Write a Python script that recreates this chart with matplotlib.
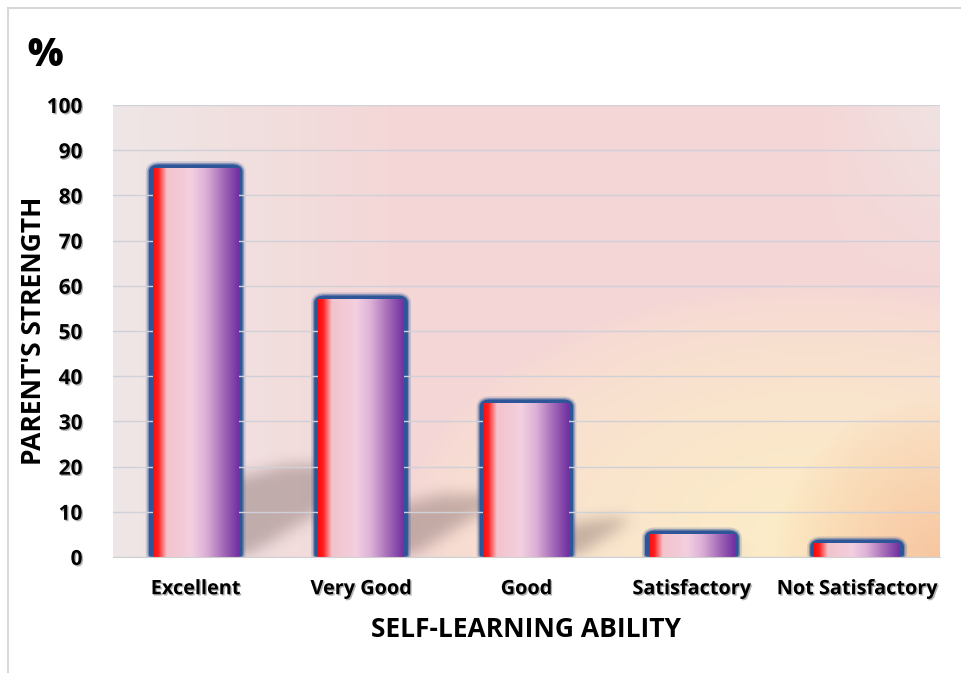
import numpy as np
import matplotlib.pyplot as plt
from matplotlib.patches import FancyBboxPatch, Rectangle
from matplotlib.path import Path
from matplotlib.colors import LinearSegmentedColormap
import matplotlib.patheffects as pe

# data
categories = ['Excellent', 'Very Good', 'Good', 'Satisfactory', 'Not Satisfactory']
values = [86, 57, 34, 5, 3]
yticks = [0, 10, 20, 30, 40, 50, 60, 70, 80, 90, 100]

plt.rcParams['font.family'] = ['Open Sans', 'DejaVu Sans']

fig = plt.figure(figsize=(9.61, 6.73), dpi=100)
ax = fig.add_axes([0.1176, 0.1724, 0.8604, 0.6716])

# background gradient of the plot area
h, w = 200, 400
yy, xx = np.mgrid[0:1:h * 1j, 0:1:w * 1j]   # yy=0 top
pink = np.array([0.96, 0.84, 0.84])
gray = np.array([0.93, 0.92, 0.92])
yellow = np.array([0.99, 0.93, 0.78])
orange = np.array([0.97, 0.78, 0.63])
img = np.ones((h, w, 3)) * pink
gl = np.clip(1 - xx / 0.35, 0, 1)[..., None] * 0.8
img = img * (1 - gl) + gray * gl
gr = np.clip((xx - 0.85) / 0.15, 0, 1)[..., None] * np.clip(1 - yy / 0.4, 0, 1)[..., None] * 0.6
img = img * (1 - gr) + gray * gr
d = np.sqrt(((xx - 0.85) / 0.5) ** 2 + ((yy - 0.95) / 0.55) ** 2)
gy = np.clip(1 - d, 0, 1)[..., None] ** 0.6
img = img * (1 - gy) + yellow * gy
d2 = np.sqrt(((xx - 1.0) / 0.2) ** 2 + ((yy - 1.0) / 0.35) ** 2)
go = np.clip(1 - d2, 0, 1)[..., None] ** 0.8
img = img * (1 - go) + orange * go
ax.imshow(img, extent=[-0.5, 4.5, 0, 100], aspect='auto', zorder=0)

x = np.arange(len(categories))
bw = 0.52
bars = ax.bar(x, values, bw, facecolor='none', edgecolor='none', zorder=3)

# soft shadows cast to the upper right (blurred mask)
sh, sw = 225, 415
gx = np.linspace(-0.5, 4.5, sw)
gyv = np.linspace(100, 0, sh)
GX, GY = np.meshgrid(gx, gyv)
pts_grid = np.column_stack([GX.ravel(), GY.ravel()])
mask = np.zeros(sh * sw)
for b, v in zip(bars, values):
    x1 = b.get_x() + b.get_width()
    hs = 0.24 * v
    dx = 0.0113 * v
    poly = Path([(x1 - 0.2, -1), (x1, -1), (x1 + dx, hs), (x1 + 0.3 * dx, hs * 0.98),
                 (x1, hs * 0.85), (x1 - 0.2, hs * 0.85), (x1 - 0.2, -1)])
    mask = np.maximum(mask, poly.contains_points(pts_grid).astype(float))
mask = mask.reshape(sh, sw)
k = 7
kern = np.ones(k) / k
for _ in range(3):
    mask = np.apply_along_axis(lambda r: np.convolve(r, kern, mode='same'), 1, mask)
    mask = np.apply_along_axis(lambda c: np.convolve(c, kern, mode='same'), 0, mask)
rgba = np.zeros((sh, sw, 4))
rgba[..., 0] = 0.45
rgba[..., 1] = 0.36
rgba[..., 2] = 0.36
rgba[..., 3] = 0.38 * mask
ax.imshow(rgba, extent=[-0.5, 4.5, 0, 100], aspect='auto', zorder=1)

# bar gradient
cmap = LinearSegmentedColormap.from_list('bar', [
    (0.0, '#ff0a0a'), (0.06, '#ff2020'), (0.16, '#f3c4cc'), (0.45, '#f2cfe0'),
    (0.62, '#dcb0d6'), (0.82, '#a46ab8'), (1.0, '#7030a0')])
grad = np.linspace(0, 1, 256)[None, :]
for b in bars:
    x0 = b.get_x()
    bwid = b.get_width()
    hgt = b.get_height()
    # glow / border
    for lw, a in [(10, 0.2), (7.5, 0.45), (5.5, 1.0)]:
        ax.add_patch(FancyBboxPatch((x0, 0), bwid, hgt, boxstyle='round,pad=0,rounding_size=0.04',
                                    mutation_aspect=20, facecolor='none', edgecolor='#2e5597',
                                    linewidth=lw, alpha=a, zorder=2))
    ax.imshow(grad, cmap=cmap, extent=[x0, x0 + bwid, 0, hgt], aspect='auto', zorder=4)

ax.set_xlim(-0.5, 4.5)
ax.set_ylim(0, 100)
ax.set_yticks(yticks)
ax.set_xticks(x)
ax.set_xticklabels(categories)
ax.grid(axis='y', color='#d0d0d8', linewidth=1, zorder=0.5)
ax.set_axisbelow(False)
for s in ['top', 'right', 'left']:
    ax.spines[s].set_visible(False)
ax.spines['bottom'].set_color('#d0d0d0')
ax.spines['bottom'].set_zorder(5)
ax.tick_params(length=0)
ax.tick_params(axis='x', pad=16, labelsize=14.3)
ax.tick_params(axis='y', pad=22, labelsize=15)
shadow = [pe.withSimplePatchShadow(offset=(1, -1), alpha=0.3)]
for lab in ax.get_xticklabels() + ax.get_yticklabels():
    lab.set_fontweight('bold')
    lab.set_path_effects(shadow)

ax.set_xlabel('SELF-LEARNING ABILITY', fontsize=19, fontweight='bold', labelpad=12)
ax.set_ylabel("PARENT'S STRENGTH", fontsize=19, fontweight='bold')
ax.yaxis.set_label_coords(-0.08, 0.5)
fig.text(0.028, 0.918, '%', fontsize=27, fontweight='heavy', ha='left', va='center')

# outer frame
fig.patches.append(Rectangle((0.008, -0.1), 1.2, 1.088, transform=fig.transFigure,
                             fill=False, edgecolor='#d8d8d8', linewidth=1.5))

fig.savefig('out.png', dpi=100)
